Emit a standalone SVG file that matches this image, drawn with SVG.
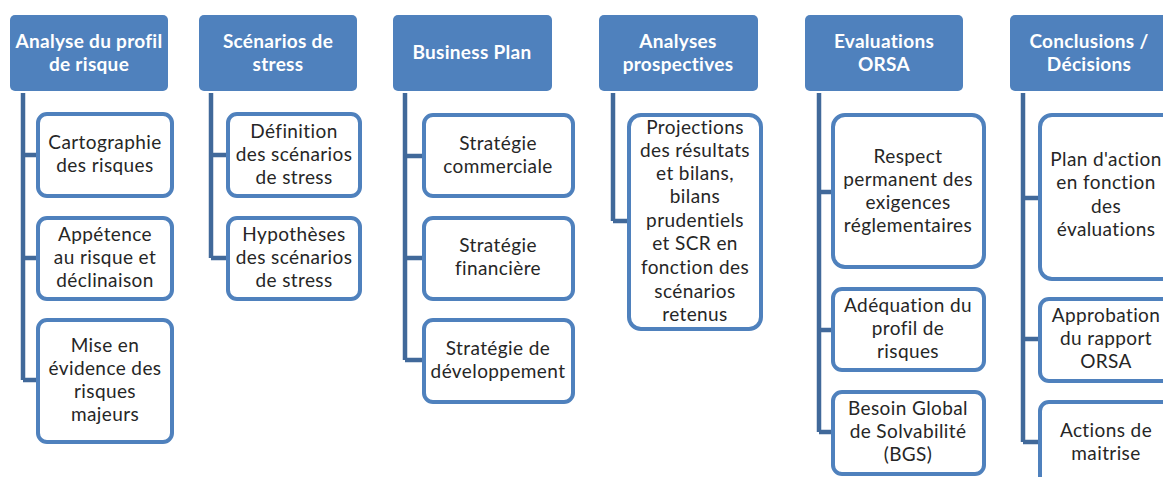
<svg xmlns="http://www.w3.org/2000/svg" width="1163" height="477" viewBox="0 0 1163 477">
<defs>
<style>
.hd{fill:#4F81BD;}
.ht{font-family:Lato,"Liberation Sans",sans-serif;font-weight:bold;font-size:19px;letter-spacing:0.3px;font-variant-ligatures:none;fill:#FFFFFF;text-anchor:middle;}
.ch{fill:#FFFFFF;stroke:#4F81BD;stroke-width:4;}
.ct{font-family:Lato,"Liberation Sans",sans-serif;font-size:19px;letter-spacing:0.4px;font-variant-ligatures:none;fill:#262626;text-anchor:middle;}
.cn{fill:none;stroke:#41699A;stroke-width:4.5;}
</style>
</defs>
<rect width="1163" height="477" fill="#FFFFFF"/>
<g id="connectors">
<path class="cn" d="M23 93 V380 M23 155 H37 M23 258 H37 M23 380 H37"/>
<path class="cn" d="M211 93 V258 M211 155 H227 M211 258 H227"/>
<path class="cn" d="M405 93 V360 M405 156 H423 M405 258 H423 M405 360 H423"/>
<path class="cn" d="M613 93 V221 M613 221 H628"/>
<path class="cn" d="M819 93 V432 M819 192 H832 M819 330 H832 M819 432 H832"/>
<path class="cn" d="M1023 93 V442 M1023 198 H1039 M1023 339 H1039 M1023 442 H1039"/>
</g>
<g id="h1"><rect class="hd" x="10" y="15" width="158" height="76" rx="5"/><text class="ht" x="89" y="48">Analyse du profil</text><text class="ht" x="89" y="71">de risque</text></g>
<g id="h2"><rect class="hd" x="199" y="15" width="158" height="76" rx="5"/><text class="ht" x="278" y="48">Scénarios de</text><text class="ht" x="278" y="71">stress</text></g>
<g id="h3"><rect class="hd" x="393" y="15" width="159" height="76" rx="5"/><text class="ht" x="472" y="59">Business Plan</text></g>
<g id="h4"><rect class="hd" x="599" y="15" width="159" height="76" rx="5"/><text class="ht" x="678" y="48">Analyses</text><text class="ht" x="678" y="71">prospectives</text></g>
<g id="h5"><rect class="hd" x="805" y="15" width="158" height="76" rx="5"/><text class="ht" x="884" y="48">Evaluations</text><text class="ht" x="884" y="71">ORSA</text></g>
<g id="h6"><rect class="hd" x="1010" y="15" width="158" height="76" rx="5"/><text class="ht" x="1089" y="48">Conclusions /</text><text class="ht" x="1089" y="71">Décisions</text></g>

<g id="c1a"><rect class="ch" x="38" y="114" width="134" height="82" rx="9"/><text class="ct" x="105" y="149">Cartographie</text><text class="ct" x="105" y="172">des risques</text></g>
<g id="c1b"><rect class="ch" x="38" y="218" width="134" height="81" rx="9"/><text class="ct" x="105" y="241">Appétence</text><text class="ct" x="105" y="264">au risque et</text><text class="ct" x="105" y="287">déclinaison</text></g>
<g id="c1c"><rect class="ch" x="38" y="320" width="134" height="122" rx="9"/><text class="ct" x="105" y="352">Mise en</text><text class="ct" x="105" y="375">évidence des</text><text class="ct" x="105" y="398">risques</text><text class="ct" x="105" y="421">majeurs</text></g>

<g id="c2a"><rect class="ch" x="228" y="114" width="132" height="82" rx="9"/><text class="ct" x="294" y="138">Définition</text><text class="ct" x="294" y="161">des scénarios</text><text class="ct" x="294" y="184">de stress</text></g>
<g id="c2b"><rect class="ch" x="228" y="218" width="132" height="81" rx="9"/><text class="ct" x="294" y="241">Hypothèses</text><text class="ct" x="294" y="264">des scénarios</text><text class="ct" x="294" y="287">de stress</text></g>

<g id="c3a"><rect class="ch" x="424" y="115" width="149" height="81" rx="9"/><text class="ct" x="498" y="150">Stratégie</text><text class="ct" x="498" y="173">commerciale</text></g>
<g id="c3b"><rect class="ch" x="424" y="218" width="149" height="81" rx="9"/><text class="ct" x="498" y="252">Stratégie</text><text class="ct" x="498" y="275">financière</text></g>
<g id="c3c"><rect class="ch" x="424" y="320" width="149" height="82" rx="9"/><text class="ct" x="498" y="355">Stratégie de</text><text class="ct" x="498" y="378">développement</text></g>

<g id="c4a"><rect class="ch" x="629" y="115" width="132" height="214" rx="12"/>
<text class="ct" x="695" y="134">Projections</text><text class="ct" x="695" y="157">des résultats</text><text class="ct" x="695" y="180">et bilans,</text><text class="ct" x="695" y="203">bilans</text><text class="ct" x="695" y="227">prudentiels</text><text class="ct" x="695" y="250">et SCR en</text><text class="ct" x="695" y="274">fonction des</text><text class="ct" x="695" y="298">scénarios</text><text class="ct" x="695" y="321">retenus</text></g>

<g id="c5a"><rect class="ch" x="833" y="115" width="151" height="152" rx="12"/><text class="ct" x="908" y="163">Respect</text><text class="ct" x="908" y="186">permanent des</text><text class="ct" x="908" y="209">exigences</text><text class="ct" x="908" y="232">réglementaires</text></g>
<g id="c5b"><rect class="ch" x="833" y="289" width="151" height="81" rx="9"/><text class="ct" x="908" y="312">Adéquation du</text><text class="ct" x="908" y="335">profil de</text><text class="ct" x="908" y="358">risques</text></g>
<g id="c5c"><rect class="ch" x="833" y="392" width="151" height="82" rx="9"/><text class="ct" x="908" y="415">Besoin Global</text><text class="ct" x="908" y="438">de Solvabilité</text><text class="ct" x="908" y="461">(BGS)</text></g>

<g id="c6a"><rect class="ch" x="1040" y="115" width="134" height="164" rx="12"/><text class="ct" x="1106" y="166">Plan d'action</text><text class="ct" x="1106" y="189">en fonction</text><text class="ct" x="1106" y="213">des</text><text class="ct" x="1106" y="236">évaluations</text></g>
<g id="c6b"><rect class="ch" x="1040" y="299" width="134" height="82" rx="9"/><text class="ct" x="1106" y="322">Approbation</text><text class="ct" x="1106" y="345">du rapport</text><text class="ct" x="1106" y="368">ORSA</text></g>
<g id="c6c"><rect class="ch" x="1040" y="402" width="134" height="90" rx="9"/><text class="ct" x="1106" y="437">Actions de</text><text class="ct" x="1106" y="460">maitrise</text></g>
</svg>
